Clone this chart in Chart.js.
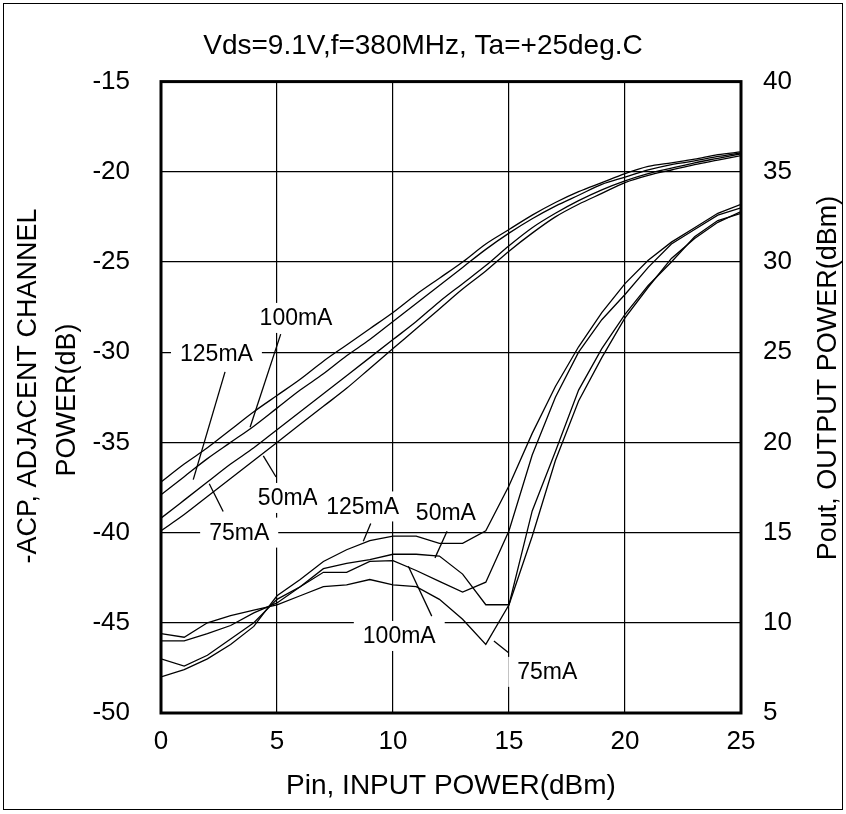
<!DOCTYPE html>
<html>
<head>
<meta charset="utf-8">
<script src="https://cdn.jsdelivr.net/npm/chart.js@4.4.1/dist/chart.umd.min.js"></script>
<style>
  html, body { margin: 0; padding: 0; background: #fff; }
  #wrap { width: 846px; height: 814px; }
</style>
</head>
<body>
<div id="wrap"><canvas id="acpChart" width="846" height="814"></canvas></div>
<script>
// Pin, input power (dBm)
const pin = [0, 1, 2, 3, 4, 5, 6, 7, 8, 9, 10, 11, 12, 13, 14, 15, 16, 17, 18, 19, 20, 21, 22, 23, 24, 25];

// Pout, output power (dBm) - right axis
const pout125 = [17.8, 18.8, 19.7, 20.7, 21.7, 22.6, 23.5, 24.5, 25.4, 26.3, 27.2, 28.2, 29.1, 30.0, 31.0, 31.8, 32.6, 33.3, 33.9, 34.4, 34.9, 35.3, 35.5, 35.7, 35.95, 36.1];
const pout100 = [17.1, 18.1, 19.1, 20.0, 20.9, 21.9, 22.9, 23.8, 24.8, 25.7, 26.7, 27.7, 28.7, 29.7, 30.7, 31.6, 32.4, 33.1, 33.7, 34.3, 34.7, 35.1, 35.4, 35.6, 35.85, 36.05];
const pout75 = [15.8, 16.8, 17.8, 18.8, 19.7, 20.7, 21.7, 22.7, 23.7, 24.7, 25.7, 26.7, 27.8, 28.8, 29.8, 30.9, 31.9, 32.7, 33.4, 34.0, 34.5, 34.9, 35.2, 35.5, 35.75, 36.0];
const pout50 = [15.1, 16.0, 17.0, 18.0, 19.0, 20.0, 21.0, 22.0, 23.0, 24.1, 25.2, 26.3, 27.4, 28.5, 29.5, 30.6, 31.6, 32.5, 33.2, 33.8, 34.4, 34.8, 35.1, 35.4, 35.65, 35.9];

// -ACP, adjacent channel power (dB) - left axis
const acp125 = [-48.0, -47.6, -47.0, -46.2, -45.2, -43.5, -42.6, -41.6, -40.95, -40.45, -40.2, -40.2, -40.6, -40.6, -39.9, -37.4, -34.5, -31.9, -29.7, -27.8, -26.2, -24.9, -23.9, -23.1, -22.3, -21.8];
const acp100 = [-46.0, -46.0, -45.6, -45.15, -44.45, -43.9, -43.0, -42.2, -42.2, -41.6, -41.55, -42.1, -42.7, -43.3, -42.75, -39.9, -35.7, -32.5, -30.0, -28.2, -26.8, -25.3, -24.0, -23.2, -22.4, -22.0];
const acp75 = [-45.6, -45.8, -45.0, -44.6, -44.3, -44.0, -43.5, -43.0, -42.9, -42.6, -42.9, -43.0, -43.7, -44.8, -46.2, -44.0, -38.8, -35.5, -32.1, -29.8, -27.9, -26.3, -25.0, -23.6, -22.7, -22.3];
const acp50 = [-47.0, -47.4, -46.8, -45.9, -45.0, -43.7, -43.0, -42.0, -41.7, -41.5, -41.2, -41.2, -41.3, -42.3, -44.0, -44.0, -40.2, -36.0, -32.7, -30.3, -28.1, -26.4, -24.8, -23.7, -22.8, -22.2];

// Curve labels (in left-axis data units) and their leader lines
const labelText = ['125mA', '100mA', '75mA', '50mA', '125mA', '50mA', '100mA', '75mA'];
const labelX = [2.39, 5.82, 3.37, 5.47, 8.69, 12.28, 10.27, 16.65];
const labelY = [-30.06, -28.1, -40.0, -38.08, -38.55, -38.91, -45.73, -47.72];
const leaderFrom = [[2.76, -31.09], [5.16, -29.0], [2.68, -38.83], [4.96, -36.92], [9.04, -39.5], [12.33, -39.93], [11.67, -44.63], [14.97, -46.65]];
const leaderTo = [[1.39, -37.06], [3.84, -34.16], [2.08, -37.29], [4.41, -35.75], [8.72, -40.48], [11.81, -41.4], [10.66, -41.87], [14.35, -46.01]];

const FONT = '"Liberation Sans", Arial, Helvetica, sans-serif';

function curve(ys, axis, smooth) {
    return {
        data: pin.map((x, i) => ({ x: x, y: ys[i] })),
        yAxisID: axis,
        borderColor: '#000',
        borderWidth: 1.3,
        pointRadius: 0,
        tension: 0,
        cubicInterpolationMode: smooth ? 'monotone' : 'default',
        fill: false
    };
}

// Labels with white boxes over the grid, and leader lines
const mALabels = {
    id: 'mALabels',
    beforeDatasetsDraw(chart) {
        const { ctx, scales: { x, y } } = chart;
        ctx.save();
        ctx.font = '23px ' + FONT;
        ctx.textAlign = 'center';
        ctx.textBaseline = 'middle';
        labelText.forEach((t, i) => {
            const px = x.getPixelForValue(labelX[i]);
            const py = y.getPixelForValue(labelY[i]);
            const w = ctx.measureText(t).width;
            ctx.fillStyle = '#fff';
            ctx.fillRect(px - w / 2 - 9, py - 15, w + 18, 30);
            ctx.fillStyle = '#000';
            ctx.fillText(t, px, py + 1);
            ctx.beginPath();
            ctx.moveTo(x.getPixelForValue(leaderFrom[i][0]), y.getPixelForValue(leaderFrom[i][1]));
            ctx.lineTo(x.getPixelForValue(leaderTo[i][0]), y.getPixelForValue(leaderTo[i][1]));
            ctx.lineWidth = 1.3;
            ctx.strokeStyle = '#000';
            ctx.stroke();
        });
        ctx.restore();
    }
};

// Vertical axis titles, both read bottom to top
const sideTitles = {
    id: 'sideTitles',
    afterDraw(chart) {
        const { ctx } = chart;
        const put = (txt, cx, cy) => {
            ctx.save();
            ctx.translate(cx, cy);
            ctx.rotate(-Math.PI / 2);
            ctx.fillText(txt, 0, 0);
            ctx.restore();
        };
        ctx.save();
        ctx.font = '27px ' + FONT;
        ctx.fillStyle = '#000';
        ctx.textAlign = 'center';
        ctx.textBaseline = 'middle';
        put('-ACP, ADJACENT CHANNEL', 29, 386);
        put('POWER(dB)', 68, 400);
        put('Pout, OUTPUT POWER(dBm)', 829, 378);
        ctx.restore();
    }
};

// Thick plot frame and thin outer border
const frame = {
    id: 'frame',
    afterDraw(chart) {
        const { ctx, chartArea: a } = chart;
        ctx.save();
        ctx.strokeStyle = '#000';
        ctx.lineWidth = 3;
        ctx.strokeRect(a.left, a.top, a.right - a.left, a.bottom - a.top);
        ctx.lineWidth = 1;
        ctx.strokeRect(3.5, 3.5, 839, 806);
        ctx.restore();
    }
};

const ctx = document.getElementById('acpChart').getContext('2d');
new Chart(ctx, {
    type: 'line',
    data: {
        datasets: [
            curve(pout125, 'y1', true),
            curve(pout100, 'y1', true),
            curve(pout75, 'y1', true),
            curve(pout50, 'y1', true),
            curve(acp125, 'y', false),
            curve(acp100, 'y', false),
            curve(acp75, 'y', false),
            curve(acp50, 'y', false)
        ]
    },
    options: {
        responsive: false,
        animation: false,
        devicePixelRatio: 1,
        layout: { padding: 0 },
        plugins: {
            legend: { display: false },
            tooltip: { enabled: false },
            title: {
                display: true,
                text: 'Vds=9.1V,f=380MHz, Ta=+25deg.C',
                color: '#000',
                font: { family: FONT, size: 28, weight: 'normal' },
                padding: { top: 29, bottom: 19 }
            }
        },
        scales: {
            x: {
                type: 'linear',
                min: 0, max: 25,
                ticks: { stepSize: 5, color: '#000', padding: 13, font: { family: FONT, size: 26 } },
                grid: { color: '#000', lineWidth: 1.2, drawTicks: false },
                border: { display: false },
                title: {
                    display: true,
                    text: 'Pin, INPUT POWER(dBm)',
                    color: '#000',
                    font: { family: FONT, size: 28 },
                    padding: { top: 0, bottom: 11 }
                },
                afterFit(scale) { scale.height = 101; }
            },
            y: {
                type: 'linear',
                position: 'left',
                min: -50, max: -15,
                ticks: { stepSize: 5, color: '#000', padding: 31, font: { family: FONT, size: 26 } },
                grid: { color: '#000', lineWidth: 1.2, drawTicks: false },
                border: { display: false },
                afterFit(scale) { scale.width = 161; }
            },
            y1: {
                type: 'linear',
                position: 'right',
                min: 5, max: 40,
                ticks: { stepSize: 5, color: '#000', padding: 22, font: { family: FONT, size: 26 } },
                grid: { display: false, drawTicks: false },
                border: { display: false },
                afterFit(scale) { scale.width = 105; }
            }
        }
    },
    plugins: [mALabels, sideTitles, frame]
});
</script>
</body>
</html>
